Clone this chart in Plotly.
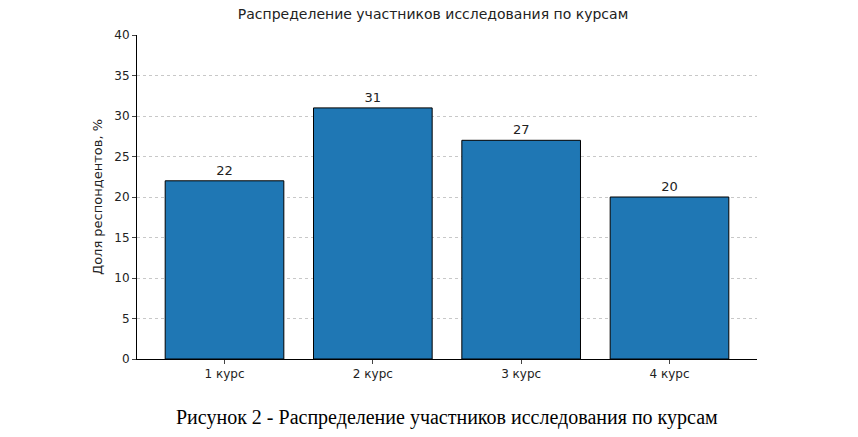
import plotly.graph_objects as go

categories = ["1 курс", "2 курс", "3 курс", "4 курс"]
values = [22, 31, 27, 20]
y_ticks = [0, 5, 10, 15, 20, 25, 30, 35, 40]

fig = go.Figure(go.Bar(
    x=list(range(len(categories))), y=values, width=0.8,
    marker=dict(color="#1f77b4", line=dict(color="black", width=1)),
    text=[str(v) for v in values], textposition="outside",
    textfont=dict(size=13, color="#222"), cliponaxis=False,
))
fig.update_layout(
    width=850, height=429, paper_bgcolor="white", plot_bgcolor="white",
    margin=dict(l=129, r=101, t=27, b=78),
    font=dict(family="DejaVu Sans", size=12, color="#222"),
    title=dict(text="Распределение участников исследования по курсам",
               x=0.5, xanchor="center", y=0.986, yanchor="middle",
               font=dict(size=14, family="DejaVu Sans")),
    showlegend=False,
)
fig.update_xaxes(range=[-0.59, 3.59], tickvals=list(range(len(categories))),
                 ticktext=categories, showline=True, linecolor="black",
                 ticks="outside", ticklen=4, showgrid=False, zeroline=False)
fig.update_yaxes(range=[0, 40], tickvals=y_ticks, showline=True, linecolor="black",
                 ticks="outside", ticklen=4, showgrid=True, gridcolor="#c8c8c8",
                 griddash="dot", zeroline=False,
                 title=dict(text="Доля респондентов, %", font=dict(size=13), standoff=8))
fig.add_annotation(text="Рисунок 2 - Распределение участников исследования по курсам",
                   xref="paper", yref="paper", x=0.5, y=-0.182, yanchor="middle",
                   xanchor="center", showarrow=False,
                   font=dict(family="Liberation Serif", size=20, color="black"))
fig.write_html("out.html")
